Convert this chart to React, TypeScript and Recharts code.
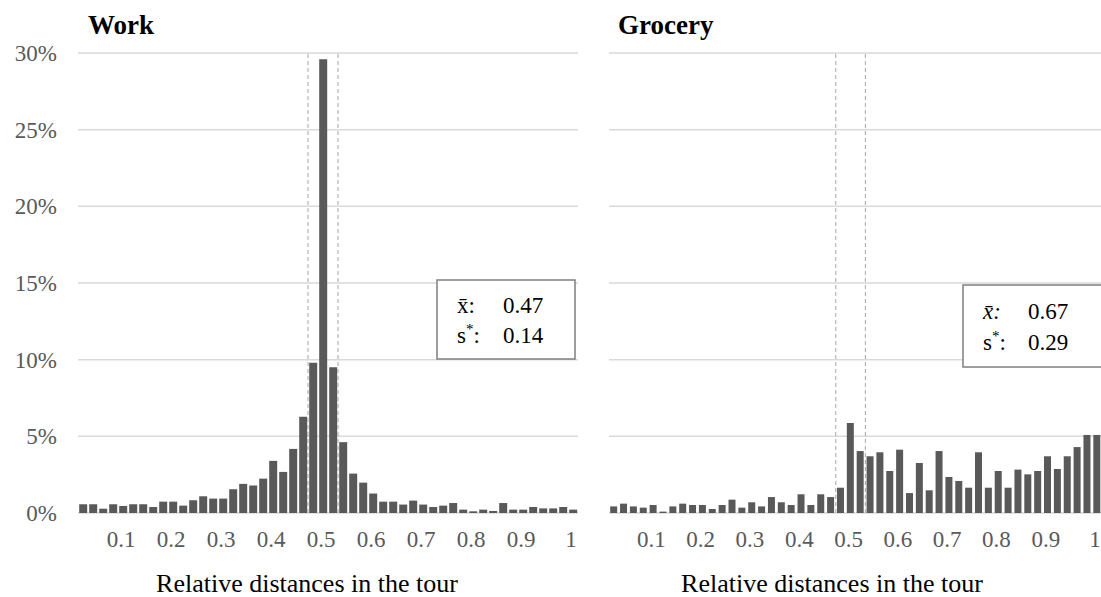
import { BarChart, Bar, XAxis, YAxis, CartesianGrid, ReferenceLine } from "recharts";

// bins of 0.02, labelled by their upper edge
const BINS = Array.from({ length: 50 }, (_, i) => String(+((i + 1) * 0.02).toFixed(2)));
const X_TICKS = ["0.1", "0.2", "0.3", "0.4", "0.5", "0.6", "0.7", "0.8", "0.9", "1"];
const Y_TICKS = [0, 5, 10, 15, 20, 25, 30];

// share of stops (%) per bin
const WORK = [
  0.57, 0.57, 0.28, 0.57, 0.46, 0.57, 0.57, 0.39, 0.74, 0.74,
  0.48, 0.83, 1.09, 0.94, 0.94, 1.55, 1.9, 1.79, 2.24, 3.4,
  2.68, 4.18, 6.27, 9.8, 29.6, 9.5, 4.62, 2.57, 1.98, 1.27,
  0.74, 0.74, 0.55, 0.81, 0.55, 0.39, 0.48, 0.65, 0.22, 0.11,
  0.22, 0.13, 0.65, 0.22, 0.22, 0.39, 0.3, 0.3, 0.39, 0.22,
];
const GROCERY = [
  0.43, 0.61, 0.43, 0.35, 0.52, 0.09, 0.43, 0.61, 0.52, 0.52,
  0.26, 0.52, 0.87, 0.35, 0.7, 0.43, 1.04, 0.7, 0.52, 1.22,
  0.52, 1.22, 1.04, 1.65, 5.87, 4.04, 3.7, 3.96, 2.74, 4.13,
  1.3, 3.26, 1.48, 4.04, 2.35, 2.09, 1.65, 3.96, 1.65, 2.74,
  1.65, 2.83, 2.52, 2.74, 3.7, 2.87, 3.7, 4.3, 5.09, 5.09,
];

const data = BINS.map((bin, i) => ({ bin, work: WORK[i], grocery: GROCERY[i] }));

const SERIF = '"Liberation Serif", "Times New Roman", serif';
const BAR = "#595959";
const GRID = "#d9d9d9";
const TICK = { fill: "#595959", fontSize: 23, fontFamily: SERIF };

const Panel = ({ dataKey, showY }: { dataKey: string; showY: boolean }) => (
  <BarChart
    width={showY ? 590 : 513}
    height={597}
    data={data}
    margin={{ top: 53, right: showY ? 12 : 10, left: 10, bottom: 0 }}
    barCategoryGap="12%"
  >
    <CartesianGrid vertical={false} stroke={GRID} strokeWidth={1.5} />
    <XAxis
      dataKey="bin"
      ticks={X_TICKS}
      interval={0}
      height={84}
      axisLine={false}
      tickLine={false}
      tickMargin={12}
      tick={{ ...TICK, dx: -2 }}
    />
    <YAxis
      hide={!showY}
      width={68}
      domain={[0, 30]}
      ticks={Y_TICKS}
      tickFormatter={(v) => `${v}%`}
      axisLine={false}
      tickLine={false}
      tickMargin={15}
      tick={TICK}
    />
    <Bar dataKey={dataKey} fill={BAR} isAnimationActive={false} />
    <ReferenceLine x="0.48" position="start" stroke="#a6a6a6" strokeDasharray="4 3" />
    <ReferenceLine x="0.52" position="end" stroke="#a6a6a6" strokeDasharray="4 3" />
  </BarChart>
);

export default function App() {
  return (
    <div style={{ position: "absolute", left: 0, top: 0, width: 1101, height: 597, overflow: "hidden", background: "#fff" }}>
      <div style={{ position: "absolute", left: 0, top: 0 }}>
        <Panel dataKey="work" showY />
      </div>
      <div style={{ position: "absolute", left: 599, top: 0 }}>
        <Panel dataKey="grocery" showY={false} />
      </div>
      <svg width={1101} height={597} style={{ position: "absolute", left: 0, top: 0, pointerEvents: "none" }} fontFamily={SERIF}>
        <text x={88} y={34} fontSize={27} fontWeight="bold">Work</text>
        <text x={618} y={34} fontSize={27} fontWeight="bold">Grocery</text>
        <text x={307} y={592} fontSize={26} textAnchor="middle">Relative distances in the tour</text>
        <text x={832} y={592} fontSize={26} textAnchor="middle">Relative distances in the tour</text>

        <rect x={437} y={280} width={138} height={79} fill="#fff" stroke="#7f7f7f" strokeWidth={1.5} />
        <text x={457} y={313} fontSize={23}>x̄:</text>
        <text x={503} y={313} fontSize={23}>0.47</text>
        <text x={457} y={343} fontSize={23}>s<tspan dy={-9} fontSize={15}>*</tspan><tspan dy={9}>:</tspan></text>
        <text x={503} y={343} fontSize={23}>0.14</text>

        <rect x={963} y={285} width={200} height={82} fill="#fff" stroke="#7f7f7f" strokeWidth={1.5} />
        <text x={983} y={319} fontSize={23} fontStyle="italic">x̄:</text>
        <text x={1028} y={319} fontSize={23}>0.67</text>
        <text x={983} y={350} fontSize={23}>s<tspan dy={-9} fontSize={15}>*</tspan><tspan dy={9}>:</tspan></text>
        <text x={1028} y={350} fontSize={23}>0.29</text>
      </svg>
    </div>
  );
}
